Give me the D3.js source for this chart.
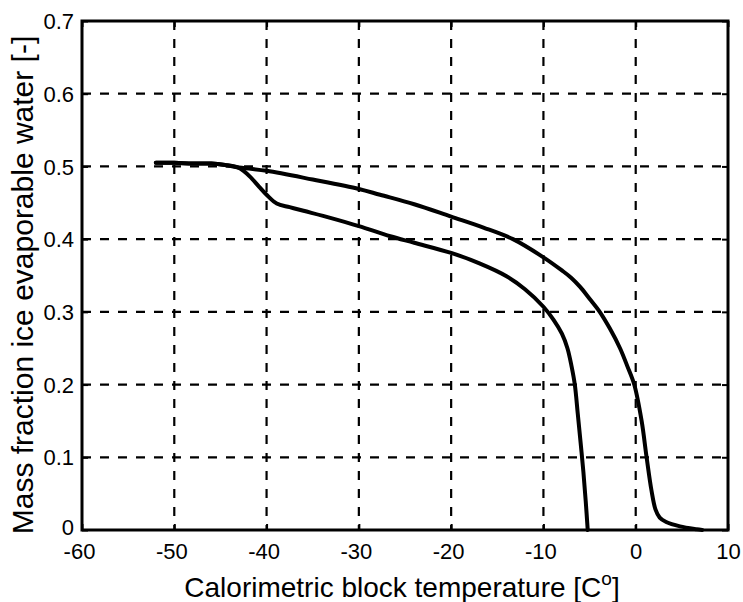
<!DOCTYPE html>
<html>
<head>
<meta charset="utf-8">
<script src="https://cdn.jsdelivr.net/npm/d3@7"></script>
<style>
  html, body { margin: 0; padding: 0; background: #fff; }
  svg { display: block; }
  text { font-family: "Liberation Sans", Arial, Helvetica, sans-serif; fill: #000; }
</style>
</head>
<body>
<svg id="chart" width="743" height="602"></svg>
<script>
// ---- data ----
const xTicks = [-60, -50, -40, -30, -20, -10, 0, 10];
const yTicks = [0, 0.1, 0.2, 0.3, 0.4, 0.5, 0.6, 0.7];
const xLabel = "Calorimetric block temperature [C";
const yLabel = "Mass fraction ice evaporable water [-]";

// lower curve (freezing branch): temperature, mass fraction
const freezeT = [-52, -50, -48, -46, -44.5, -43.2, -42.5, -41.8, -40.8, -40, -38.9, -37.5, -36, -33, -30, -26.6, -24, -20, -17, -14, -12, -10, -8.9, -8, -7.4, -6.95, -6.6, -6.28, -5.97, -5.67, -5.42, -5.2];
const freezeV = [0.505, 0.505, 0.504, 0.504, 0.502, 0.499, 0.494, 0.486, 0.472, 0.461, 0.449, 0.444, 0.439, 0.429, 0.418, 0.404, 0.395, 0.381, 0.367, 0.349, 0.331, 0.307, 0.289, 0.27, 0.25, 0.225, 0.2, 0.16, 0.12, 0.08, 0.04, 0];

// upper curve (melting branch)
const meltT = [-52, -50, -48, -46, -44.5, -43.2, -40, -35, -30, -27.7, -24, -20, -16.5, -13.3, -10, -8, -7, -6, -5, -3.9, -2.8, -1.7, -0.9, -0.16, 0.64, 1.18, 1.7, 2.15, 2.6, 3.3, 4.8, 6.6, 7.2];
const meltV = [0.505, 0.505, 0.504, 0.504, 0.502, 0.499, 0.494, 0.482, 0.469, 0.461, 0.448, 0.431, 0.416, 0.400, 0.375, 0.357, 0.347, 0.334, 0.318, 0.3, 0.277, 0.25, 0.225, 0.2, 0.15, 0.1, 0.055, 0.028, 0.017, 0.011, 0.005, 0.001, 0];

// ---- layout ----
const svg = d3.select("#chart");
const L = 82, R = 728, T = 21, B = 530;
const x = d3.scaleLinear().domain([-60, 10]).range([L, R]);
const y = d3.scaleLinear().domain([0, 0.7]).range([B, T]);

// grid
const grid = svg.append("g");
grid.selectAll("line.gx").data(xTicks.slice(1, -1)).enter().append("line")
  .attr("x1", d => x(d)).attr("x2", d => x(d)).attr("y1", T).attr("y2", B)
  .attr("stroke", "#000").attr("stroke-width", 2.2).attr("stroke-dasharray", "9,9");
grid.selectAll("line.gy").data(yTicks.slice(1, -1)).enter().append("line")
  .attr("x1", L).attr("x2", R).attr("y1", d => y(d)).attr("y2", d => y(d))
  .attr("stroke", "#000").attr("stroke-width", 2.2).attr("stroke-dasharray", "9,9");

// axes (ticks inward)
const fmtY = d => d === 0 ? "0" : d3.format(".1f")(d);
const fmtX = d => String(d);
const xAxis = svg.append("g").attr("transform", `translate(0,${B})`)
  .call(d3.axisBottom(x).tickValues(xTicks).tickSize(-6).tickFormat(fmtX));
const yAxis = svg.append("g").attr("transform", `translate(${L},0)`)
  .call(d3.axisLeft(y).tickValues(yTicks).tickSize(-6).tickPadding(8).tickFormat(fmtY));
svg.append("g").attr("transform", `translate(0,${T})`)
  .call(d3.axisTop(x).tickValues(xTicks).tickSize(-6).tickFormat(""));
svg.append("g").attr("transform", `translate(${R},0)`)
  .call(d3.axisRight(y).tickValues(yTicks).tickSize(-6).tickFormat(""));

svg.selectAll(".domain").remove();
svg.selectAll(".tick line").attr("stroke", "#000").attr("stroke-width", 2);
xAxis.selectAll("text").attr("font-size", 22).attr("fill", "#000")
  .attr("dy", null).attr("y", 29).attr("x", d => d < 0 ? -3 : 0);
yAxis.selectAll("text").attr("font-size", 22).attr("fill", "#000").attr("dy", "0.35em")
  .attr("y", d => d === 0 ? -3 : 0);

// frame
svg.append("rect").attr("x", L).attr("y", T).attr("width", R - L).attr("height", B - T)
  .attr("fill", "none").attr("stroke", "#000").attr("stroke-width", 3);

// curves
const freeze = freezeT.map((t, i) => [t, freezeV[i]]);
const melt = meltT.map((t, i) => [t, meltV[i]]);
const lineC = d3.line().x(d => x(d[0])).y(d => y(d[1])).curve(d3.curveCatmullRom.alpha(0.5));
[freeze, melt].forEach(s => {
  svg.append("path").datum(s).attr("d", lineC)
    .attr("fill", "none").attr("stroke", "#000").attr("stroke-width", 4)
    .attr("stroke-linejoin", "round").attr("stroke-linecap", "round");
});

// axis titles
const xt = svg.append("text").attr("x", 402).attr("y", 597).attr("text-anchor", "middle")
  .attr("font-size", 28);
xt.append("tspan").text(xLabel);
xt.append("tspan").attr("font-size", 19).attr("dy", -12).text("o");
xt.append("tspan").attr("dy", 12).text("]");

svg.append("text").attr("transform", "translate(33,285) rotate(-90)")
  .attr("text-anchor", "middle").attr("font-size", 30).text(yLabel);
</script>
</body>
</html>
